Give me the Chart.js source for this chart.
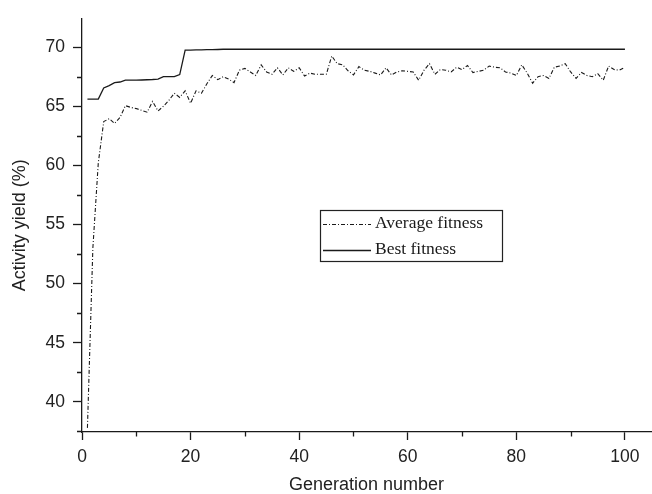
<!DOCTYPE html>
<html>
<head>
<meta charset="utf-8">
<script src="https://cdn.jsdelivr.net/npm/chart.js@4"></script>
<style>
  body { margin: 0; background: #fff; }
  canvas { display: block; }
</style>
</head>
<body>
<canvas id="fitnessChart" width="652" height="494"></canvas>
<script>
// generation index (x axis)
const generations = Array.from({ length: 100 }, (_, i) => i + 1);

// best fitness per generation (%)
const bestFitness = [
  65.6, 65.6, 65.6, 66.55, 66.75, 67.0, 67.05, 67.2, 67.2, 67.2,
  67.22, 67.24, 67.26, 67.3, 67.5, 67.5, 67.5, 67.68, 69.74, 69.75,
  69.76, 69.77, 69.78, 69.79, 69.8, 69.82, 69.82, 69.82, 69.82, 69.82,
  69.82, 69.82, 69.82, 69.82, 69.82, 69.82, 69.82, 69.82, 69.82, 69.82,
  69.82, 69.82, 69.82, 69.82, 69.82, 69.82, 69.82, 69.82, 69.82, 69.82,
  69.82, 69.82, 69.82, 69.82, 69.82, 69.82, 69.82, 69.82, 69.82, 69.82,
  69.82, 69.82, 69.82, 69.82, 69.82, 69.82, 69.82, 69.82, 69.82, 69.82,
  69.82, 69.82, 69.82, 69.82, 69.82, 69.82, 69.82, 69.82, 69.82, 69.82,
  69.82, 69.82, 69.82, 69.82, 69.82, 69.82, 69.82, 69.82, 69.82, 69.82,
  69.82, 69.82, 69.82, 69.82, 69.82, 69.82, 69.82, 69.82, 69.82, 69.82
];

// average fitness per generation (%)
const averageFitness = [
  37.8, 53.0, 60.2, 63.7, 63.95, 63.55, 64.05, 65.05, 64.9, 64.8,
  64.65, 64.5, 65.4, 64.6, 65.0, 65.5, 66.1, 65.75, 66.3, 65.25,
  66.3, 66.1, 66.9, 67.6, 67.25, 67.5, 67.3, 67.0, 68.05, 68.2,
  67.9, 67.6, 68.5, 67.9, 67.7, 68.25, 67.65, 68.25, 67.95, 68.25,
  67.55, 67.8, 67.7, 67.7, 67.7, 69.25, 68.6, 68.5, 68.0, 67.65,
  68.35, 68.05, 67.95, 67.8, 67.65, 68.25, 67.65, 67.9, 68.0, 67.95,
  67.9, 67.2, 68.05, 68.6, 67.7, 68.1, 68.05, 67.9, 68.3, 68.1,
  68.45, 67.85, 67.95, 68.05, 68.4, 68.3, 68.25, 67.9, 67.8, 67.6,
  68.5, 67.8, 66.95, 67.5, 67.6, 67.35, 68.3, 68.4, 68.6, 67.9,
  67.35, 67.85, 67.6, 67.5, 67.75, 67.2, 68.4, 68.1, 68.05, 68.3
];

const xMajorTicks = [0, 20, 40, 60, 80, 100];
const xMinorTicks = [10, 30, 50, 70, 90];
const yMajorTicks = [40, 45, 50, 55, 60, 65, 70];
const yMinorTicks = [37.5, 42.5, 47.5, 52.5, 57.5, 62.5, 67.5];

const axisColor = "#1a1a1a";
const sansFont = "'Liberation Sans', Arial, sans-serif";
const serifFont = "'Liberation Serif', 'Times New Roman', serif";

// minor ticks are shorter than the major ones
const minorTickPlugin = {
  id: "minorTicks",
  afterDraw(chart) {
    const ctx = chart.ctx;
    const xs = chart.scales.x;
    const ys = chart.scales.y;
    ctx.save();
    ctx.strokeStyle = axisColor;
    ctx.lineWidth = 1.3;
    ctx.beginPath();
    xMinorTicks.forEach((v) => {
      const px = Math.round(xs.getPixelForValue(v)) + 0.5;
      ctx.moveTo(px, xs.top);
      ctx.lineTo(px, xs.top + 4.5);
    });
    yMinorTicks.forEach((v) => {
      const py = Math.round(ys.getPixelForValue(v)) + 0.5;
      ctx.moveTo(ys.right, py);
      ctx.lineTo(ys.right - 5, py);
    });
    ctx.stroke();
    ctx.restore();
  },
};

// boxed legend inside the plot
const boxLegendPlugin = {
  id: "boxLegend",
  afterDraw(chart) {
    const ctx = chart.ctx;
    const left = 320, top = 210, w = 182, h = 51;
    ctx.save();
    ctx.strokeStyle = "#222";
    ctx.lineWidth = 1.2;
    ctx.strokeRect(left + 0.5, top + 0.5, w, h);
    ctx.font = "17.5px " + serifFont;
    ctx.fillStyle = "#1a1a1a";
    ctx.textBaseline = "middle";
    const rows = [224, 250];
    chart.data.datasets.forEach((ds, i) => {
      const y = rows[i];
      ctx.setLineDash(ds.borderDash || []);
      ctx.lineWidth = ds.borderWidth;
      ctx.strokeStyle = ds.borderColor;
      ctx.beginPath();
      ctx.moveTo(left + 3, y + 0.5);
      ctx.lineTo(left + 51, y + 0.5);
      ctx.stroke();
      ctx.setLineDash([]);
      ctx.fillText(ds.label, left + 55, y - 1);
    });
    ctx.restore();
  },
};

const ctx = document.getElementById("fitnessChart").getContext("2d");

new Chart(ctx, {
  type: "line",
  data: {
    datasets: [
      {
        label: "Average fitness",
        data: generations.map((g, i) => ({ x: g, y: averageFitness[i] })),
        borderColor: "#1a1a1a",
        borderWidth: 1.1,
        borderDash: [4, 2, 1, 2],
        pointRadius: 0,
        tension: 0,
        fill: false,
      },
      {
        label: "Best fitness",
        data: generations.map((g, i) => ({ x: g, y: bestFitness[i] })),
        borderColor: "#1a1a1a",
        borderWidth: 1.3,
        pointRadius: 0,
        tension: 0,
        fill: false,
      },
    ],
  },
  options: {
    responsive: false,
    animation: false,
    layout: { padding: { top: 13, right: 1, left: 0, bottom: 0 } },
    plugins: {
      legend: { display: false },
      tooltip: { enabled: false },
    },
    scales: {
      x: {
        type: "linear",
        min: 0,
        max: 104.8,
        afterBuildTicks: (scale) => {
          scale.ticks = xMajorTicks.map((v) => ({ value: v }));
        },
        afterFit: (scale) => {
          scale.height = 62;
        },
        border: { display: true, color: axisColor, width: 1.3 },
        grid: {
          drawOnChartArea: false,
          drawTicks: true,
          tickLength: 8,
          tickColor: axisColor,
          tickWidth: 1.3,
        },
        ticks: {
          autoSkip: false,
          maxRotation: 0,
          padding: 7,
          color: "#222",
          font: { family: sansFont, size: 17.5 },
        },
        title: {
          display: true,
          text: "Generation number",
          color: "#222",
          font: { family: sansFont, size: 18, lineHeight: 1 },
          padding: { top: 0, bottom: 0 },
        },
      },
      y: {
        type: "linear",
        min: 37.45,
        max: 72.42,
        afterBuildTicks: (scale) => {
          scale.ticks = yMajorTicks.map((v) => ({ value: v }));
        },
        afterFit: (scale) => {
          scale.width = 82;
        },
        border: { display: true, color: axisColor, width: 1.3 },
        grid: {
          drawOnChartArea: false,
          drawTicks: true,
          tickLength: 9,
          tickColor: axisColor,
          tickWidth: 1.3,
        },
        ticks: {
          autoSkip: false,
          padding: 8,
          color: "#222",
          font: { family: sansFont, size: 17.5 },
        },
        title: {
          display: true,
          text: "Activity yield (%)",
          color: "#222",
          font: { family: sansFont, size: 18, lineHeight: 1 },
          padding: { top: 11, bottom: 0 },
        },
      },
    },
  },
  plugins: [minorTickPlugin, boxLegendPlugin],
});
</script>
</body>
</html>
